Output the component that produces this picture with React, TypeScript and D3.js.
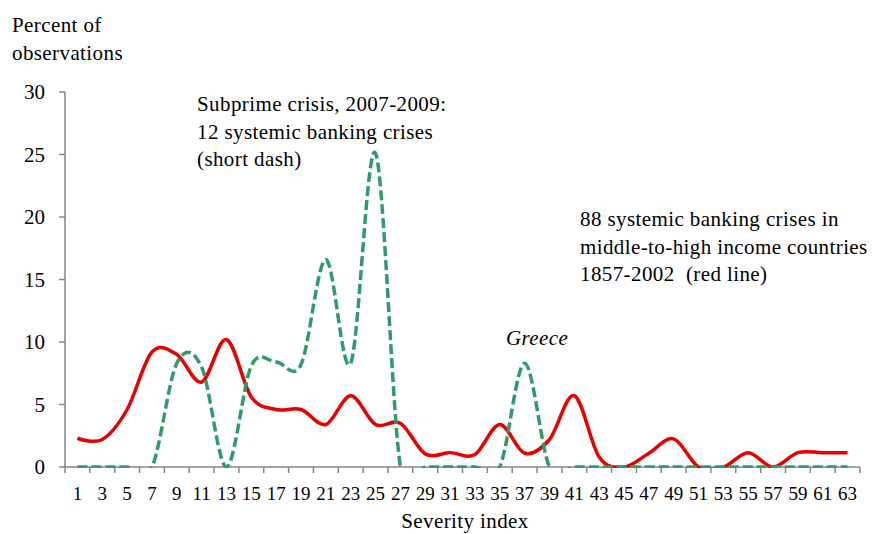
import React, { useEffect, useRef } from 'react';
import * as d3 from 'd3';

// Severity index categories (odd values only, one per band)
const severityIndex = [1, 3, 5, 7, 9, 11, 13, 15, 17, 19, 21, 23, 25, 27, 29, 31, 33, 35, 37, 39, 41, 43, 45, 47, 49, 51, 53, 55, 57, 59, 61, 63];

// 88 systemic banking crises, 1857-2002 (red line)
const historicalPct = [2.3, 2.2, 4.6, 9.2, 9.0, 6.8, 10.2, 5.6, 4.6, 4.6, 3.4, 5.7, 3.4, 3.5, 1.05, 1.15, 1.0, 3.4, 1.1, 2.2, 5.7, 0.8, 0, 1.1, 2.25, 0, 0, 1.15, 0, 1.15, 1.15, 1.15];

// Subprime crisis 2007-2009, 12 crises (short dash)
const subprimePct = [0, 0, 0, 0, 8.3, 8.0, 0, 8.1, 8.4, 8.2, 16.6, 8.3, 25.1, 0, 0, 0, 0, 0, 8.3, 0, 0, 0, 0, 0, 0, 0, 0, 0, 0, 0, 0, 0];

const yTicks = [0, 5, 10, 15, 20, 25, 30];

const W = 886;
const H = 534;
const FONT = 'Liberation Serif, Times New Roman, serif';
const AXIS = '#868686';

const App: React.FC = () => {
  const svgRef = useRef<SVGSVGElement>(null);

  useEffect(() => {
    if (!svgRef.current) return;
    const svg = d3.select(svgRef.current);
    svg.selectAll('*').remove();

    const left = 65, right = 860, top = 92, bottom = 467;

    const x = d3.scaleBand<number>().domain(severityIndex).range([left, right]).padding(0);
    const y = d3.scaleLinear().domain([0, 30]).range([bottom, top]);
    const cx = (d: number) => x(d)! + x.bandwidth() / 2;

    // plot area clip (series are cut at the axis like the original)
    svg.append('defs').append('clipPath').attr('id', 'plot-clip')
      .append('rect')
      .attr('x', left).attr('y', 0)
      .attr('width', right - left + 10).attr('height', bottom + 1);

    // y axis
    svg.append('line')
      .attr('x1', left).attr('x2', left).attr('y1', top).attr('y2', bottom)
      .attr('stroke', AXIS).attr('stroke-width', 1.5);
    yTicks.forEach((t) => {
      svg.append('line')
        .attr('x1', left - 6).attr('x2', left).attr('y1', y(t)).attr('y2', y(t))
        .attr('stroke', AXIS).attr('stroke-width', 1.5);
      svg.append('text')
        .attr('x', 45).attr('y', y(t)).attr('dy', '0.35em')
        .attr('text-anchor', 'end')
        .style('font-family', FONT).style('font-size', '21px')
        .text(t);
    });

    // x axis
    svg.append('line')
      .attr('x1', left).attr('x2', right).attr('y1', bottom).attr('y2', bottom)
      .attr('stroke', AXIS).attr('stroke-width', 1.5);
    const edges = severityIndex.map((d) => x(d)!).concat([right]);
    edges.forEach((e) => {
      svg.append('line')
        .attr('x1', e).attr('x2', e).attr('y1', bottom).attr('y2', bottom + 6)
        .attr('stroke', AXIS).attr('stroke-width', 1.5);
    });
    severityIndex.forEach((d) => {
      svg.append('text')
        .attr('x', cx(d)).attr('y', 500)
        .attr('text-anchor', 'middle')
        .style('font-family', FONT).style('font-size', '19px')
        .text(d);
    });

    const line = d3.line<number>()
      .x((_, i) => cx(severityIndex[i]))
      .y((v) => y(v))
      .curve(d3.curveCatmullRom.alpha(0));

    const series = svg.append('g').attr('clip-path', 'url(#plot-clip)');

    series.append('path')
      .attr('d', line(historicalPct)!)
      .attr('fill', 'none')
      .attr('stroke', '#e60000')
      .attr('stroke-width', 3.5)
      .attr('stroke-linejoin', 'round');

    series.append('path')
      .attr('d', line(subprimePct)!)
      .attr('fill', 'none')
      .attr('stroke', '#2e9b68')
      .attr('stroke-width', 3.5)
      .attr('stroke-dasharray', '10,4');

    const addText = (lines: string[], tx: number, ty: number, italic = false) => {
      lines.forEach((s, i) => {
        svg.append('text')
          .attr('x', tx).attr('y', ty + i * 27.7)
          .style('font-family', FONT).style('font-size', '21px')
          .style('letter-spacing', '0.4px')
          .style('font-style', italic ? 'italic' : 'normal')
          .style('white-space', 'pre')
          .text(s);
      });
    };

    addText(['Percent of', 'observations'], 12, 32);
    addText(['Subprime crisis, 2007-2009:', '12 systemic banking crises', '(short dash)'], 197, 111);
    addText(['88 systemic banking crises in', 'middle-to-high income countries', '1857-2002  (red line)'], 580, 226);
    addText(['Greece'], 506, 345, true);

    svg.append('text')
      .attr('x', 465).attr('y', 528)
      .attr('text-anchor', 'middle')
      .style('font-family', FONT).style('font-size', '21px')
      .style('letter-spacing', '0.4px')
      .text('Severity index');
  }, []);

  return (
    <svg
      ref={svgRef}
      width={W}
      height={H}
      style={{ position: 'absolute', left: 0, top: 0, background: '#fff' }}
    />
  );
};

export default App;
